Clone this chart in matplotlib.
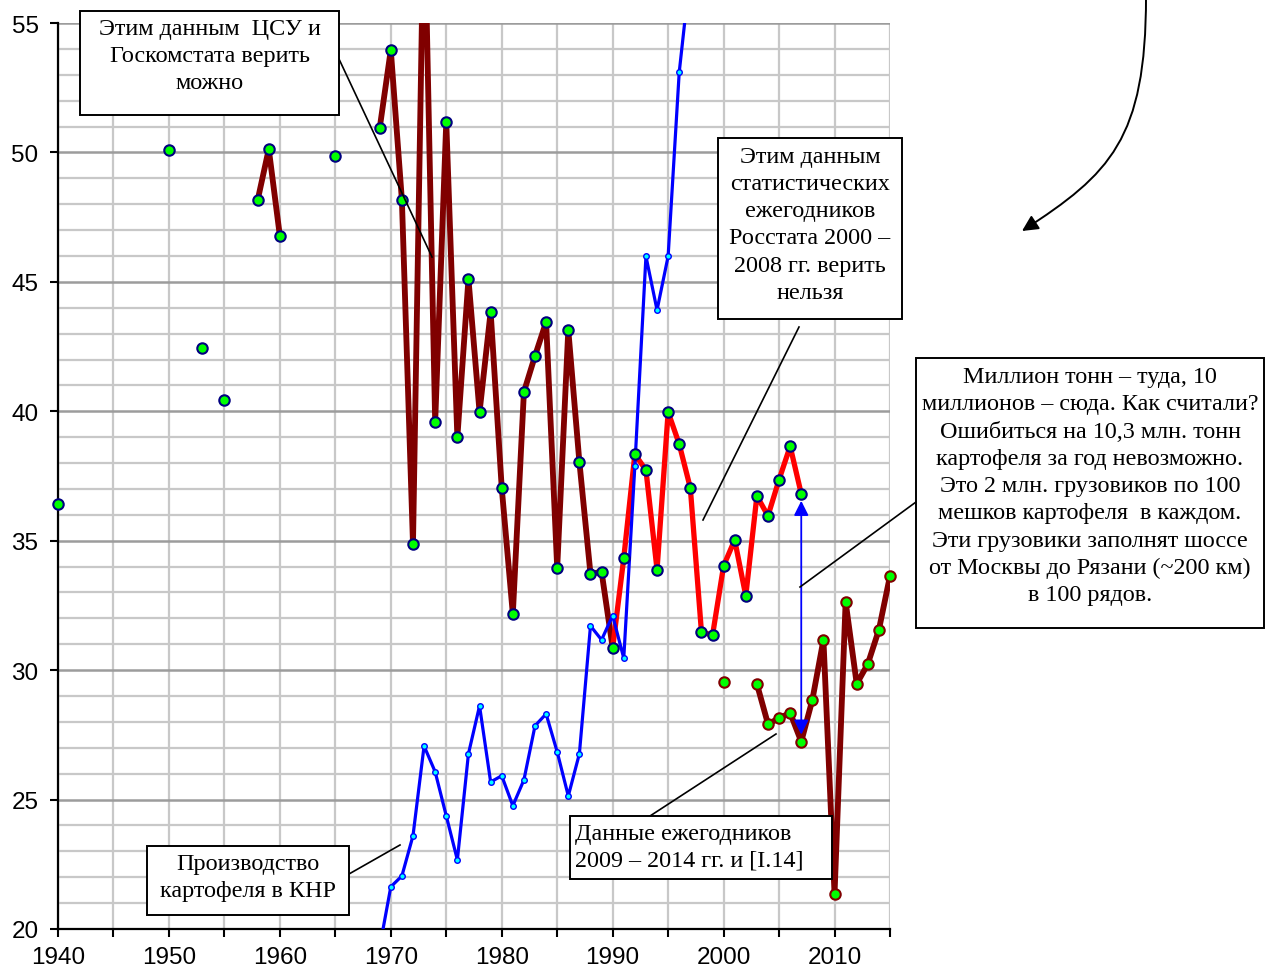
import numpy as np
import matplotlib
matplotlib.use("Agg")
import matplotlib.pyplot as plt
from matplotlib.patches import Rectangle, FancyArrowPatch
from matplotlib.path import Path
from matplotlib.lines import Line2D
from matplotlib.ticker import MultipleLocator

nan = np.nan

# ЦСУ / Госкомстат, 1940-1990 (пропуски = nan)
cso_years = list(range(1940, 1991))
cso_vals = [36.4] + [nan] * 9 + [50.1, nan, nan, 42.45, nan, 40.44, nan, nan,
            48.16, 50.13, 46.77, nan, nan, nan, nan, 49.86, nan, nan, nan,
            50.94, 53.96, 48.16, 34.88, 60.0, 39.59, 51.18, 39.0, 45.11, 39.97,
            43.84, 37.04, 32.17, 40.75, 42.14, 43.45, 33.95, 43.14, 38.04,
            33.72, 33.8, 30.86]

# Росстат, ежегодники 2000-2008
rosstat_years = list(range(1990, 2008))
rosstat_vals = [30.86, 34.33, 38.34, 37.73, 33.88, 39.97, 38.73, 37.04, 31.49,
                31.34, 34.03, 35.03, 32.87, 36.73, 35.96, 37.36, 38.65, 36.81]

# ежегодники 2009-2014 и [I.14]
yb_years = list(range(2000, 2016))
yb_vals = [29.53, nan, nan, 29.47, 27.92, 28.14, 28.35, 27.24, 28.85, 31.17,
           21.36, 32.64, 29.47, 30.24, 31.56, 33.64]

# КНР
china_years = list(range(1969, 1998))
china_vals = [19.3, 21.63, 22.05, 23.6, 27.07, 26.07, 24.37, 22.67, 26.77, 28.62,
              25.68, 25.92, 24.76, 25.76, 27.85, 28.31, 26.84, 25.14, 26.77,
              31.71, 31.17, 32.11, 30.46, 37.89, 45.99, 43.91, 45.99, 53.1, 57.0]

W, H = 1276, 970
YMIN, YMAX = 20, 55

plt.rcParams["font.family"] = ["Liberation Sans", "DejaVu Sans"]

fig = plt.figure(figsize=(W / 100, H / 100), dpi=100)
ax = fig.add_axes([58 / W, 1 - 930 / H, (890 - 58) / W, (930 - 24) / H])


def fx(px):
    return px / W


def fy(py):
    return 1 - py / H


def in_view(v):
    v = np.asarray(v, dtype=float)
    return np.where((v >= YMIN) & (v <= YMAX), v, nan)


# линии
ax.plot(cso_years, cso_vals, color="#800000", lw=4.2, zorder=3,
        solid_joinstyle="round", solid_capstyle="round")
ax.plot(rosstat_years, rosstat_vals, color="#FF0000", lw=3.8, zorder=3,
        solid_joinstyle="round", solid_capstyle="round")
ax.plot(yb_years, yb_vals, color="#800000", lw=4.2, zorder=3,
        solid_joinstyle="round", solid_capstyle="round")
ax.plot(china_years, china_vals, color="#0000FF", lw=2.3, zorder=4,
        solid_joinstyle="round")

# маркеры (не обрезаются по краю, как в Excel)
mk = dict(ls="none", marker="o", ms=7.5, mfc="#00FF00", mew=1.5, clip_on=False, zorder=5)
ax.plot(cso_years, in_view(cso_vals), mec="#000080", **mk)
ax.plot(rosstat_years[1:], in_view(rosstat_vals[1:]), mec="#000080", **mk)
ax.plot(yb_years, in_view(yb_vals), mec="#800000", **mk)
ax.plot(china_years, in_view(china_vals), ls="none", marker="o", ms=4, mfc="#00FFFF",
        mec="#0000FF", mew=1.0, clip_on=False, zorder=6)

# стрелка расхождения 2007 г.
i_rs = rosstat_years.index(2007)
i_yb = yb_years.index(2007)
ax.annotate("", xy=(2007, yb_vals[i_yb]), xytext=(2007, rosstat_vals[i_rs]),
            arrowprops=dict(arrowstyle="<|-|>", color="#0000FF", lw=1.3,
                            mutation_scale=22, shrinkA=5, shrinkB=5),
            zorder=4)

ax.set_xlim(1940, 2015)
ax.set_ylim(YMIN, YMAX)
ax.xaxis.set_major_locator(MultipleLocator(10))
ax.xaxis.set_minor_locator(MultipleLocator(5))
ax.yaxis.set_major_locator(MultipleLocator(5))
ax.yaxis.set_minor_locator(MultipleLocator(1))

ax.grid(True, which="minor", axis="y", color="#C8C8C8", lw=1.6)
ax.grid(True, which="major", axis="y", color="#9C9C9C", lw=1.8)
ax.grid(True, which="both", axis="x", color="#C8C8C8", lw=1.6)
ax.set_axisbelow(True)

ax.tick_params(axis="x", which="both", direction="out", length=6, width=1.5,
               labelsize=17.5, pad=6, color="black")
ax.tick_params(axis="y", which="major", direction="out", length=6, width=1.5,
               labelsize=17.5, pad=8, color="black")
ax.tick_params(axis="y", which="minor", length=0)

for s in ("top", "right"):
    ax.spines[s].set_visible(False)
for s in ("left", "bottom"):
    ax.spines[s].set_linewidth(1.6)
    ax.spines[s].set_color("black")

# выноски
serif = ["Liberation Serif", "DejaVu Serif"]
LINE_PX = 27.7
notes = [
    ((80, 12, 339, 116), "Этим данным  ЦСУ и\nГоскомстата верить\nможно", "center",
     ((339, 60), (432, 258))),
    ((718, 139, 902, 320), "Этим данным\nстатистических\nежегодников\nРосстата 2000 –\n"
     "2008 гг. верить\nнельзя", "center", ((799, 328), (703, 521))),
    ((916, 359, 1264, 629), "Миллион тонн – туда, 10\nмиллионов – сюда. Как считали?\n"
     "Ошибиться на 10,3 млн. тонн\nкартофеля за год невозможно.\n"
     "Это 2 млн. грузовиков по 100\nмешков картофеля  в каждом.\n"
     "Эти грузовики заполнят шоссе\nот Москвы до Рязани (~200 км)\nв 100 рядов.",
     "center", ((916, 503), (800, 588))),
    ((570, 817, 832, 880), "Данные ежегодников\n2009 – 2014 гг. и [I.14]", "left",
     ((650, 817), (776, 735))),
    ((147, 847, 349, 916), "Производство\nкартофеля в КНР", "center",
     ((349, 875), (400, 846))),
]
for (x0, y0, x1, y1), txt, align, (p, q) in notes:
    fig.add_artist(Line2D([fx(p[0]), fx(q[0])], [fy(p[1]), fy(q[1])],
                          transform=fig.transFigure, color="black", lw=1.2, zorder=6))
    fig.add_artist(Rectangle((fx(x0), fy(y1)), (x1 - x0) / W, (y1 - y0) / H,
                             transform=fig.transFigure, fc="white", ec="black",
                             lw=1.4, zorder=7))
    if align == "left":
        tx, ha = fx(x0 + 5), "left"
    else:
        tx, ha = fx((x0 + x1) / 2), "center"
    n = txt.count("\n") + 1
    ty = y0 + 17 + (n - 1) * LINE_PX / 2
    fig.text(tx, fy(ty), txt, ha=ha, va="center", multialignment=align,
             family=serif, fontsize=17.4, linespacing=1.39, zorder=8)

# изогнутая стрелка справа вверху
verts = [(fx(1146), fy(-2)), (fx(1146), fy(140)), (fx(1110), fy(175)), (fx(1022), fy(232))]
codes = [Path.MOVETO, Path.CURVE4, Path.CURVE4, Path.CURVE4]
fig.add_artist(FancyArrowPatch(path=Path(verts, codes), arrowstyle="-|>",
                               mutation_scale=24, color="black", lw=1.4,
                               transform=fig.transFigure, zorder=6))

fig.savefig("out.png", dpi=100)
